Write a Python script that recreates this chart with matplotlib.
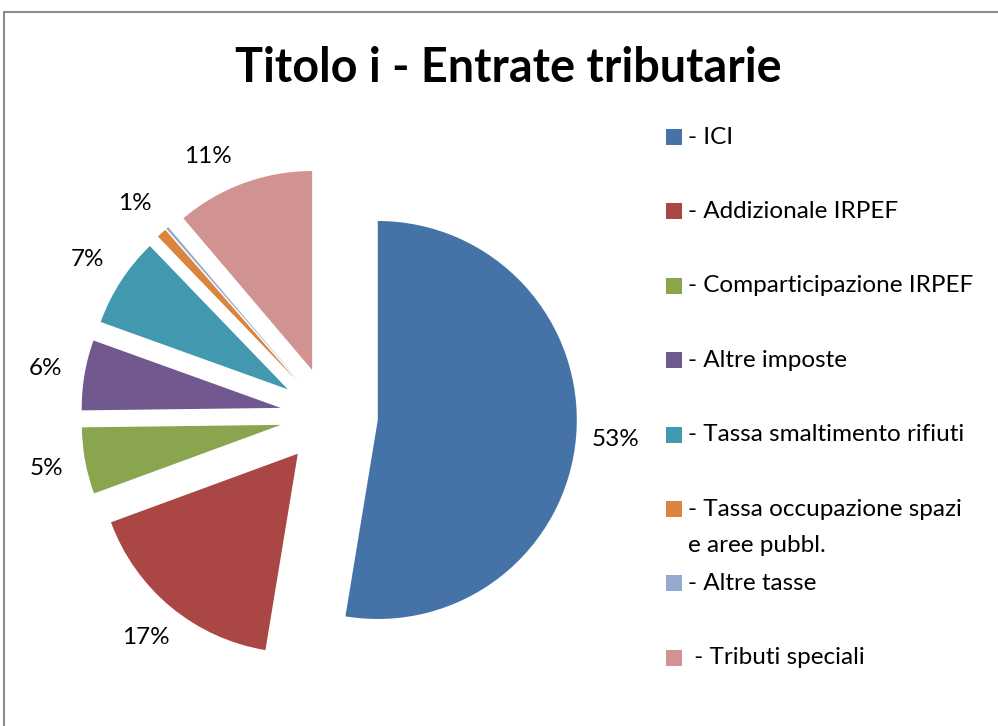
import matplotlib
matplotlib.use("Agg")
import matplotlib.pyplot as plt
from matplotlib.patches import Rectangle

plt.rcParams['font.family'] = ['Lato', 'DejaVu Sans']

title = "Titolo i - Entrate tributarie"
categories = ["- ICI", "- Addizionale IRPEF", "- Comparticipazione IRPEF", "- Altre imposte",
              "- Tassa smaltimento rifiuti", "- Tassa occupazione spazi\ne aree pubbl.",
              "- Altre tasse", " - Tributi speciali"]
values = [52.6, 16.8, 5.4, 5.7, 7.3, 0.8, 0.2, 11.2]
colors = ["#4572A7", "#AA4643", "#89A54E", "#71588F", "#4198AF", "#DB843D", "#93A9CF", "#D19392"]

W, H = 998, 726
fig = plt.figure(figsize=(W / 100, H / 100), dpi=100)

# pie axes covering the whole figure, data units = pie radius
cx, cy, r = 329, 416, 199
ax = fig.add_axes([0, 0, 1, 1])

def fmt(p):
    return "" if p < 0.5 else f"{p:.0f}%"

wedges, texts, autotexts = ax.pie(values, colors=colors, startangle=90, counterclock=False,
                                  explode=[0.246] * len(values), autopct=fmt, pctdistance=1.2,
                                  wedgeprops=dict(linewidth=0), textprops=dict(fontsize=17.5, color='black'))
ax.set_aspect('auto')
ax.set_xlim(-cx / r, (W - cx) / r)
ax.set_ylim((cy - H) / r, cy / r)
ax.axis('off')

# nudge the last label slightly, as in the reference layout
x11, y11 = autotexts[-1].get_position()
autotexts[-1].set_position((x11 - 0.11, y11 - 0.055))

def fx(px):
    return px / W

def fy(py):
    return 1 - py / H

# chart border
fig.patches.append(Rectangle((fx(4), fy(H + 10)), fx(W + 10), (H - 12 + 10) / H, transform=fig.transFigure,
                             fill=False, edgecolor='#8c8c8c', linewidth=1.5))

fig.text(fx(508), fy(68), title, ha='center', va='center', fontsize=33.7, fontweight='bold')

# legend
y0, dy = 137, 74.4
for i, (lab, col) in enumerate(zip(categories, colors)):
    y = y0 + i * dy
    fig.patches.append(Rectangle((fx(666), fy(y + 8)), 16 / W, 16 / H, transform=fig.transFigure,
                                 facecolor=col, edgecolor='none'))
    lines = lab.split("\n")
    for j, ln in enumerate(lines):
        fig.text(fx(688), fy(y + j * 36), ln, ha='left', va='center', fontsize=17.5)

fig.savefig("out.png", dpi=100)
